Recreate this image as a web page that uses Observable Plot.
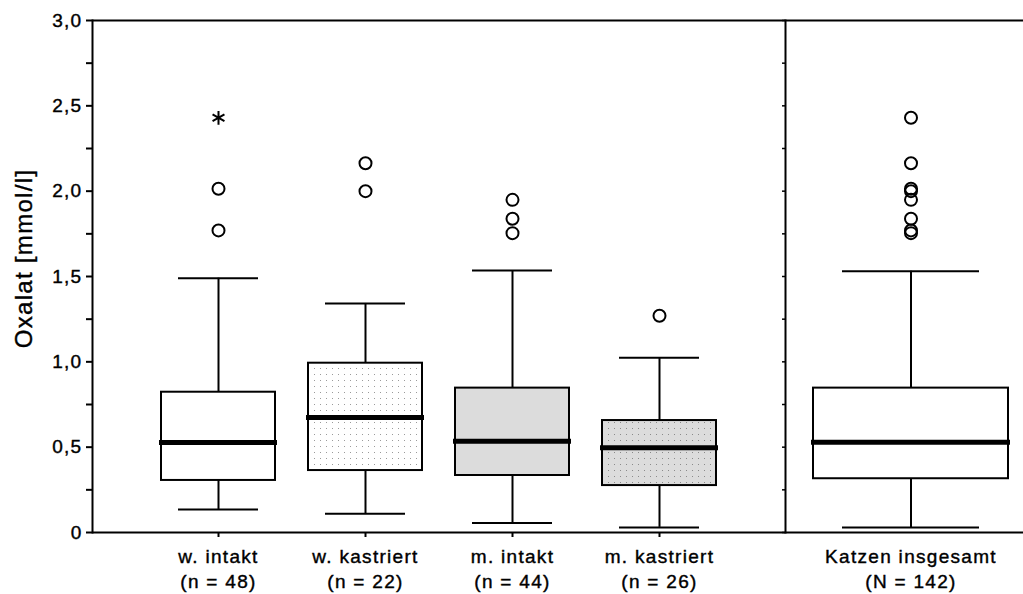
<!DOCTYPE html>
<html>
<head>
<meta charset="utf-8">
<script src="https://cdn.jsdelivr.net/npm/d3@7"></script>
<script src="https://cdn.jsdelivr.net/npm/@observablehq/plot@0.6"></script>
<style>
html, body { margin: 0; padding: 0; background: #fff; }
#chart { display: flex; width: 1023px; height: 594px; overflow: hidden; }
#chart svg text { letter-spacing: 1.3px; stroke: #000; stroke-width: 0.4px; }
</style>
</head>
<body>
<svg width="0" height="0" style="position:absolute">
  <defs>
    <pattern id="dotsWhite" width="6" height="6" patternUnits="userSpaceOnUse">
      <rect width="6" height="6" fill="#ffffff"></rect>
      <rect x="2" y="2" width="1" height="1" fill="#9a9a9a"></rect>
    </pattern>
    <pattern id="dotsGray" width="6" height="6" patternUnits="userSpaceOnUse">
      <rect width="6" height="6" fill="#dcdcdc"></rect>
      <rect x="2" y="2" width="1" height="1" fill="#8a8a8a"></rect>
    </pattern>
  </defs>
</svg>
<div id="chart"></div>
<script>
// ---- data ----
const groups = ["w. intakt", "w. kastriert", "m. intakt", "m. kastriert"];
const groupN = ["(n = 48)", "(n = 22)", "(n = 44)", "(n = 26)"];
const whiskerLow = [0.135, 0.11, 0.055, 0.03];
const quartile1 = [0.305, 0.363, 0.334, 0.275];
const medians = [0.527, 0.674, 0.535, 0.496];
const quartile3 = [0.822, 0.992, 0.846, 0.656];
const whiskerHigh = [1.49, 1.342, 1.535, 1.024];
const outlierGroup = ["w. intakt", "w. intakt", "w. kastriert", "w. kastriert", "m. intakt", "m. intakt", "m. intakt", "m. kastriert"];
const outlierValue = [2.014, 1.77, 2.164, 2.0, 1.949, 1.838, 1.754, 1.27];
const extremeGroup = ["w. intakt"];
const extremeValue = [2.43];

const totalGroup = ["Katzen insgesamt"];
const totalN = ["(N = 142)"];
const totalWhiskerLow = [0.03];
const totalQuartile1 = [0.315];
const totalMedian = [0.529];
const totalQuartile3 = [0.846];
const totalWhiskerHigh = [1.531];
const totalOutliers = [2.43, 2.164, 2.014, 2.0, 1.949, 1.838, 1.77, 1.754];

const yMajorTicks = [0, 0.5, 1, 1.5, 2, 2.5, 3];
const yMajorLabels = ["0", "0,5", "1,0", "1,5", "2,0", "2,5", "3,0"];
const yMinorTicks = [0.25, 0.75, 1.25, 1.75, 2.25, 2.75];
const yAllTicks = [0, 0.25, 0.5, 0.75, 1, 1.25, 1.5, 1.75, 2, 2.25, 2.5, 2.75, 3];
const yTitle = "Oxalat [mmol/l]";

// ---- styles ----
const boxFill = {
  "w. intakt": "#ffffff",
  "w. kastriert": "url(#dotsWhite)",
  "m. intakt": "#dcdcdc",
  "m. kastriert": "url(#dotsGray)",
  "Katzen insgesamt": "#ffffff"
};
const font = "'Liberation Sans', Arial, Helvetica, sans-serif";
const fs = 19;

// ---- tables ----
const stats = groups.map((g, i) => ({
  group: g, lo: whiskerLow[i], q1: quartile1[i], med: medians[i], q3: quartile3[i], hi: whiskerHigh[i]
}));
const outliers = outlierGroup.map((g, i) => ({group: g, value: outlierValue[i]}));
const extremes = extremeGroup.map((g, i) => ({group: g, value: extremeValue[i]}));
const totalStats = totalGroup.map((g, i) => ({
  group: g, lo: totalWhiskerLow[i], q1: totalQuartile1[i], med: totalMedian[i], q3: totalQuartile3[i], hi: totalWhiskerHigh[i]
}));
const totalOut = totalOutliers.map(v => ({group: totalGroup[0], value: v}));

function boxMarks(data, capInset) {
  return [
    Plot.ruleX(data, {x: "group", y1: "lo", y2: "q1", stroke: "black", strokeWidth: 2}),
    Plot.ruleX(data, {x: "group", y1: "q3", y2: "hi", stroke: "black", strokeWidth: 2}),
    Plot.tickY(data, {x: "group", y: "lo", stroke: "black", strokeWidth: 2, insetLeft: capInset, insetRight: capInset}),
    Plot.tickY(data, {x: "group", y: "hi", stroke: "black", strokeWidth: 2, insetLeft: capInset, insetRight: capInset}),
    ...data.map(d => Plot.barY([d], {x: "group", y1: "q1", y2: "q3", fill: boxFill[d.group], stroke: "black", strokeWidth: 2})),
    Plot.tickY(data, {x: "group", y: "med", stroke: "black", strokeWidth: 5, insetLeft: -2, insetRight: -2})
  ];
}

const left = Plot.plot({
  width: 781, height: 594,
  marginLeft: 92, marginRight: 0, marginTop: 20, marginBottom: 62,
  x: {domain: groups, paddingInner: 0.224, paddingOuter: 0.4555, align: 0.515, label: null},
  y: {domain: [0, 3], label: null},
  style: {fontFamily: font, fontSize: fs + "px", color: "black", background: "white", overflow: "visible"},
  marks: [
    Plot.ruleY([0, 3], {stroke: "black", strokeWidth: 2}),
    Plot.frame({anchor: "left", stroke: "black", strokeWidth: 2}),
    Plot.axisY({ticks: yMinorTicks, tickSize: 6, strokeWidth: 2, tickFormat: () => ""}),
    Plot.axisY({ticks: yMajorTicks, tickSize: 6, tickPadding: 4, strokeWidth: 2, fontSize: fs,
      tickFormat: d => yMajorLabels[yMajorTicks.indexOf(d)]}),
    Plot.axisX({tickSize: 5, tickPadding: 7, strokeWidth: 2, lineHeight: 1.35, fontSize: fs,
      tickFormat: d => d + "\n" + groupN[groups.indexOf(d)]}),
    ...boxMarks(stats, 17),
    Plot.dot(outliers, {x: "group", y: "value", r: 6, stroke: "black", strokeWidth: 2, fill: "none"}),
    Plot.dot(extremes, {x: "group", y: "value", r: 6.5, symbol: "asterisk", stroke: "black", strokeWidth: 2}),
    Plot.text([yTitle], {text: d => d, frameAnchor: "left", rotate: -90, dx: -68, dy: -18,
      fontSize: 24, textAnchor: "middle", lineAnchor: "middle", fill: "black"})
  ]
});

const right = Plot.plot({
  width: 242, height: 594,
  marginLeft: 4, marginRight: 0, marginTop: 20, marginBottom: 62,
  x: {domain: totalGroup, paddingInner: 0, paddingOuter: 0.11, align: 0.66, label: null},
  y: {domain: [0, 3], label: null},
  style: {fontFamily: font, fontSize: fs + "px", color: "black", background: "white", overflow: "visible"},
  marks: [
    Plot.ruleY([0, 3], {stroke: "black", strokeWidth: 2, insetLeft: -4}),
    Plot.frame({anchor: "left", stroke: "black", strokeWidth: 2}),
    Plot.axisY({ticks: yAllTicks, tickSize: 3, strokeWidth: 1.5, tickFormat: () => ""}),
    Plot.axisX({tickSize: 0, tickPadding: 12, lineHeight: 1.35, fontSize: fs,
      tickFormat: d => d + "\n" + totalN[totalGroup.indexOf(d)]}),
    ...boxMarks(totalStats, 29),
    Plot.dot(totalOut, {x: "group", y: "value", r: 6, stroke: "black", strokeWidth: 2, fill: "none"})
  ]
});

document.getElementById("chart").append(left, right);
</script>
</body>
</html>
